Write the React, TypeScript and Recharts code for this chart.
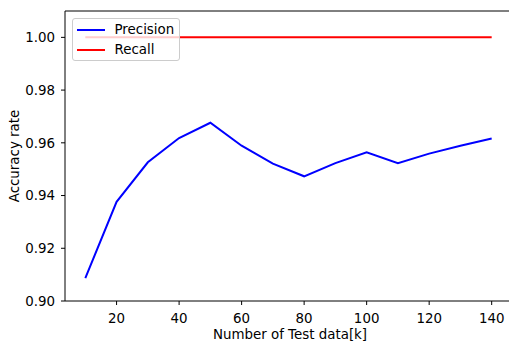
import React from 'react';
import { LineChart, Line, XAxis, YAxis, Legend, ReferenceLine } from 'recharts';

// values
const testSizes = [10, 20, 30, 40, 50, 60, 70, 80, 90, 100, 110, 120, 130, 140];
const precision = [0.9087, 0.9376, 0.9526, 0.9618, 0.9676, 0.9589, 0.9521, 0.9473, 0.9523, 0.9564, 0.9523, 0.9559, 0.9589, 0.9616];
const recall = [1.0, 1.0, 1.0, 1.0, 1.0, 1.0, 1.0, 1.0, 1.0, 1.0, 1.0, 1.0, 1.0, 1.0];
const xTicks = [20, 40, 60, 80, 100, 120, 140];
const yTicks = [0.9, 0.92, 0.94, 0.96, 0.98, 1.0];

const series = [
  { key: 'precision', name: 'Precision', color: '#0000ff' },
  { key: 'recall', name: 'Recall', color: '#ff0000' },
];

const data = testSizes.map((n, i) => ({ n, precision: precision[i], recall: recall[i] }));

const FONT = '"DejaVu Sans", sans-serif';
const FS = 13.4;
const tickStyle = { fontSize: FS, fill: '#000', fontFamily: FONT };

const LegendBox = () => (
  <div
    style={{
      position: 'relative',
      width: 108,
      height: 43,
      boxSizing: 'border-box',
      border: '1px solid #cccccc',
      borderRadius: 3,
      background: 'rgba(255,255,255,0.8)',
      fontFamily: FONT,
      fontSize: FS,
      color: '#000',
    }}
  >
    {series.map((s, i) => (
      <div key={s.key} style={{ position: 'absolute', left: 0, top: 10.5 + i * 20, width: '100%' }}>
        <div style={{ position: 'absolute', left: 3.5, top: -1, width: 28.5, height: 2, background: s.color }} />
        <div style={{ position: 'absolute', left: 41.5, top: -9, lineHeight: '17px', whiteSpace: 'nowrap' }}>{s.name}</div>
      </div>
    ))}
  </div>
);

const App: React.FC = () => {
  return (
    <div style={{ position: 'absolute', left: 0, top: 0, width: 509, height: 342, overflow: 'hidden', background: '#fff' }}>
      <LineChart width={520} height={342} data={data} margin={{ top: 11, right: 8, left: 0, bottom: 0 }}>
        <XAxis
          dataKey="n"
          type="number"
          domain={[3.5, 146.5]}
          ticks={xTicks}
          height={41}
          axisLine={{ stroke: '#000', strokeWidth: 1 }}
          tickLine={{ stroke: '#000' }}
          tickSize={4}
          tickMargin={8}
          tick={tickStyle}
          allowDataOverflow
          label={{
            content: () => (
              <text x={290} y={339} textAnchor="middle" fontSize={FS} fontFamily={FONT} fill="#000">
                Number of Test data[k]
              </text>
            ),
          }}
        />
        <YAxis
          type="number"
          domain={[0.9, 1.01]}
          ticks={yTicks}
          width={65}
          axisLine={{ stroke: '#000', strokeWidth: 1 }}
          tickLine={{ stroke: '#000' }}
          tickSize={4}
          tickMargin={6}
          tick={tickStyle}
          tickFormatter={(v: number) => v.toFixed(2)}
          allowDataOverflow
          label={{
            content: () => (
              <text
                x={14}
                y={156}
                transform="rotate(-90 14 156)"
                textAnchor="middle"
                dominantBaseline="central"
                fontSize={FS}
                fontFamily={FONT}
                fill="#000"
              >
                Accuracy rate
              </text>
            ),
          }}
        />
        {/* top spine */}
        <ReferenceLine y={1.01} stroke="#000" strokeWidth={1} />
        {series.map((s) => (
          <Line
            key={s.key}
            type="linear"
            dataKey={s.key}
            name={s.name}
            stroke={s.color}
            strokeWidth={2}
            dot={false}
            activeDot={false}
            isAnimationActive={false}
          />
        ))}
        <Legend
          layout="vertical"
          align="center"
          verticalAlign="middle"
          content={() => <LegendBox />}
          wrapperStyle={{ left: 72, top: 18, width: 108, height: 43 }}
        />
      </LineChart>
    </div>
  );
};

export default App;
